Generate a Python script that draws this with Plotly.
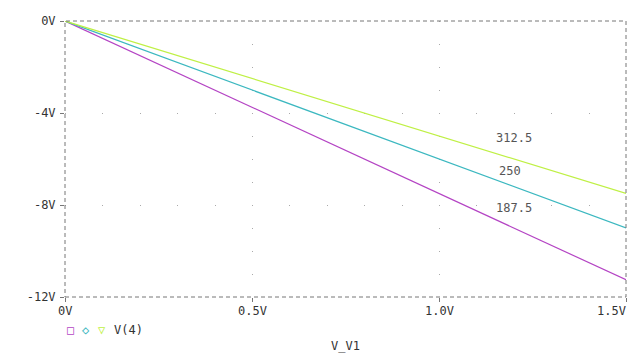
import plotly.graph_objects as go

x_vals = [0.0, 0.5, 1.0, 1.5]
series_names = ["187.5", "250", "312.5"]
v_187 = [0.0, -3.75, -7.5, -11.25]
v_250 = [0.0, -3.0, -6.0, -9.0]
v_312 = [0.0, -2.5, -5.0, -7.5]
colors = ["#b444c4", "#3cb8c0", "#bff045"]
legend_symbols = ["□", "◇", "▽"]
legend_label = "V(4)"

x_ticks = [0.0, 0.5, 1.0, 1.5]
x_ticktext = ["0V", "0.5V", "1.0V", "1.5V"]
y_ticks = [0, -4, -8, -12]
y_ticktext = ["0V", "-4V", "-8V", "-12V"]

label_x = [1.2, 1.19, 1.2]
label_y = [-8.15, -6.5, -5.1]

FONT = "DejaVu Sans Mono"
fig = go.Figure()
for name, ys, c in zip(series_names, [v_187, v_250, v_312], colors):
    fig.add_trace(go.Scatter(x=x_vals, y=ys, mode="lines", name=name,
                             line=dict(color=c, width=1.2), showlegend=False))

for t, lx, ly in zip(series_names, label_x, label_y):
    fig.add_annotation(x=lx, y=ly, text=t, showarrow=False, xanchor="center",
                       yanchor="middle", font=dict(family=FONT, size=12, color="#555"))

for xv, tt in zip(x_ticks, x_ticktext):
    anchor = "right" if xv == x_ticks[-1] else "center"
    fig.add_annotation(x=xv, y=0, yref="paper", yanchor="top", yshift=-5,
                       xanchor=anchor, xshift=(2 if anchor == "right" else 0),
                       text=tt, showarrow=False,
                       font=dict(family=FONT, size=12, color="#333"))

for i, (sym, c) in enumerate(zip(legend_symbols, colors)):
    fig.add_annotation(x=0, xref="x", y=-0.118, yref="paper", xanchor="center", yanchor="middle",
                       xshift=5 + 16 * i, text=sym, showarrow=False,
                       font=dict(family=FONT, size=12, color=c))
fig.add_annotation(x=0, xref="x", y=-0.118, yref="paper", xanchor="left", yanchor="middle",
                   xshift=47, text=legend_label, showarrow=False,
                   font=dict(family=FONT, size=12, color="#333"))

fig.add_shape(type="rect", xref="x domain", yref="y domain", x0=0, x1=1, y0=0, y1=1,
              line=dict(color="#777", width=1, dash="4px,3px"), layer="above")

fig.update_layout(
    width=631, height=354,
    margin=dict(l=65, r=5, t=21, b=57),
    plot_bgcolor="white", paper_bgcolor="white",
    font=dict(family=FONT, size=12, color="#333"),
    xaxis=dict(range=[0, 1.5], tickvals=x_ticks, ticktext=["", "", "", ""],
               showgrid=True, gridcolor="#aaa", gridwidth=1, griddash="1px,22px",
               zeroline=False, showline=False, ticks="outside", ticklen=4,
               tickcolor="#777", automargin=False,
               title=dict(text="V_V1", standoff=38, font=dict(family=FONT, size=12, color="#333"))),
    yaxis=dict(range=[-12, 0], tickvals=y_ticks, ticktext=y_ticktext,
               showgrid=True, gridcolor="#aaa", gridwidth=1, griddash="1px,36.4px",
               zeroline=False, showline=False, ticks="outside", ticklen=4,
               tickcolor="#777", ticklabelstandoff=2, automargin=False),
)
fig.write_html("out.html", config={"displayModeBar": False},
               post_script="document.body.style.margin='0';document.body.style.overflow='hidden';")
